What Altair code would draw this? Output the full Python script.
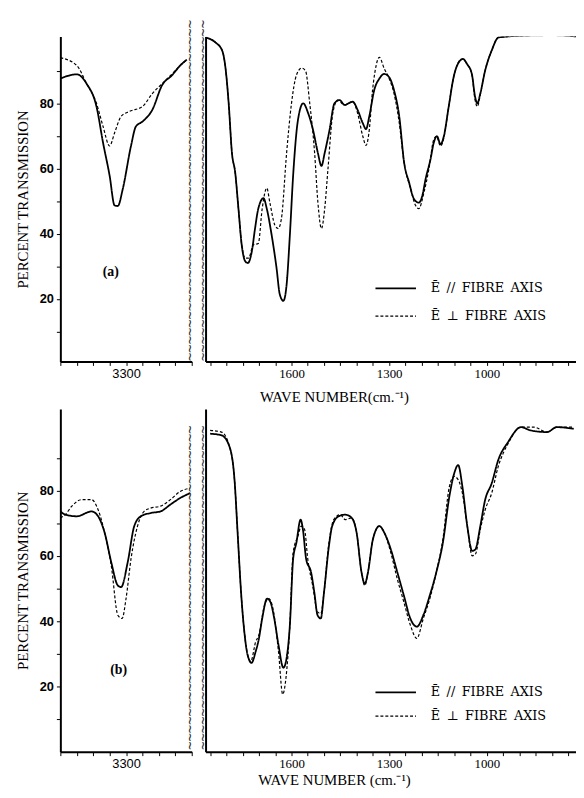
import altair as alt
import pandas as pd

# ---------------- data (wave number cm-1, percent transmission) ----------------
# Panel (a), 3700-2900 region
A_L_WN_PAR = [3700, 3600, 3540, 3480, 3440, 3400, 3370, 3350, 3320, 3270, 3240, 3200, 3140, 3080, 3020, 2970, 2930]
A_L_T_PAR = [87.6, 88.9, 86.0, 79.0, 67.9, 57.8, 48.7, 48.5, 53.7, 66.9, 72.9, 74.4, 78.0, 85.6, 88.6, 91.6, 93.4]
A_L_WN_PERP = [3700, 3600, 3540, 3480, 3440, 3400, 3370, 3330, 3280, 3200, 3140, 3080, 3020, 2970, 2930]
A_L_T_PERP = [94.0, 91.6, 86.0, 80.0, 72.9, 66.9, 70.9, 76.0, 77.5, 79.0, 83.0, 86.0, 89.0, 91.6, 93.4]

# Panel (a), 1864-713 region
A_R_WN_PAR = [1864, 1834, 1813, 1803, 1793, 1783, 1773, 1763, 1753, 1742, 1734, 1722, 1712, 1702, 1686, 1676,
              1661, 1646, 1636, 1625, 1615, 1605, 1595, 1580, 1564, 1549, 1534, 1519, 1508, 1498, 1483, 1468,
              1452, 1437, 1412, 1397, 1381, 1371, 1361, 1346, 1330, 1315, 1300, 1285, 1269, 1254, 1239, 1224,
              1209, 1198, 1188, 1173, 1163, 1153, 1142, 1132, 1117, 1102, 1086, 1073, 1061, 1046, 1036, 1029,
              1020, 1005, 985, 964, 898, 797, 713]
A_R_T_PAR = [100.2, 98.7, 96.2, 91.0, 80.0, 64.8, 58.8, 47.7, 36.6, 31.5, 31.0, 34.5, 41.6, 47.7, 50.9, 47.7,
             39.6, 29.5, 21.4, 19.4, 24.4, 39.6, 57.8, 75.0, 80.0, 77.0, 71.9, 64.8, 60.8, 64.8, 71.9, 80.0,
             81.0, 79.5, 80.5, 78.0, 73.9, 72.1, 76.0, 84.0, 87.6, 89.0, 88.0, 84.0, 76.0, 61.8, 55.8, 50.7,
             49.5, 51.7, 56.8, 62.8, 67.9, 69.9, 67.4, 69.9, 79.0, 88.0, 92.6, 93.6, 92.1, 89.0, 82.0, 80.0,
             83.0, 90.1, 96.2, 100.2, 100.7, 100.9, 100.4]
A_R_WN_PERP = [1864, 1834, 1813, 1803, 1793, 1783, 1773, 1763, 1753, 1742, 1732, 1717, 1702, 1690, 1676, 1666,
               1651, 1641, 1631, 1615, 1600, 1585, 1569, 1557, 1544, 1529, 1519, 1508, 1498, 1488, 1473, 1458,
               1437, 1412, 1397, 1381, 1371, 1361, 1351, 1341, 1330, 1315, 1300, 1285, 1269, 1254, 1234, 1219,
               1209, 1193, 1178, 1163, 1155, 1142, 1132, 1117, 1102, 1076, 1061, 1046, 1036, 1029, 1020, 1005,
               985, 964, 898, 797, 713]
A_R_T_PERP = [100.2, 98.7, 96.2, 91.0, 80.0, 64.8, 58.8, 47.7, 36.6, 32.5, 32.5, 36.6, 37.0, 47.7, 54.0, 49.3,
              42.6, 41.6, 44.6, 64.8, 80.0, 88.6, 90.8, 90.0, 80.0, 64.8, 49.7, 41.6, 47.7, 59.8, 77.0, 81.0,
              79.5, 80.5, 77.0, 69.9, 67.1, 71.9, 84.0, 91.1, 94.1, 90.6, 87.6, 83.0, 74.0, 61.8, 53.7, 48.7,
              47.7, 52.7, 59.8, 68.9, 69.9, 66.9, 69.4, 79.0, 88.0, 93.6, 92.1, 89.0, 81.0, 79.0, 82.6, 90.1,
              96.2, 100.2, 100.7, 100.9, 100.4]

# Panel (b), 3700-2900 region
B_L_WN_PAR = [3700, 3670, 3600, 3510, 3470, 3430, 3390, 3350, 3330, 3290, 3250, 3210, 3150, 3090, 3030, 2970, 2910]
B_L_T_PAR = [73.6, 72.6, 72.1, 73.6, 72.1, 67.0, 58.0, 50.9, 50.4, 58.0, 69.1, 72.1, 73.1, 73.6, 75.7, 77.7, 79.2]
B_L_WN_PERP = [3700, 3670, 3630, 3570, 3510, 3470, 3430, 3390, 3350, 3324, 3300, 3270, 3230, 3190, 3150, 3090,
               3030, 2970, 2910]
B_L_T_PERP = [71.6, 72.6, 75.2, 77.2, 77.2, 74.1, 67.0, 57.0, 41.8, 40.8, 46.9, 59.0, 69.1, 73.6, 74.6, 75.2,
              77.2, 79.7, 80.7]

# Panel (b), 1850-733 region
B_R_WN_PAR = [1850, 1815, 1790, 1775, 1765, 1755, 1745, 1735, 1723, 1710, 1700, 1690, 1675, 1665, 1653, 1640,
              1625, 1615, 1605, 1595, 1585, 1572, 1565, 1555, 1540, 1530, 1520, 1510, 1500, 1485, 1475, 1455,
              1435, 1415, 1400, 1385, 1375, 1365, 1350, 1330, 1315, 1295, 1275, 1255, 1235, 1215, 1195, 1175,
              1155, 1135, 1115, 1100, 1088, 1075, 1060, 1045, 1035, 1020, 1005, 985, 965, 935, 895, 865, 815,
              785, 733]
B_R_T_PAR = [97.4, 96.9, 93.3, 83.2, 66.1, 48.9, 36.8, 29.7, 27.2, 30.7, 34.7, 40.8, 46.9, 45.9, 40.8, 32.7,
             25.7, 28.7, 38.8, 59.0, 64.0, 71.1, 68.1, 59.0, 55.0, 48.9, 41.8, 40.8, 48.9, 63.0, 69.1, 72.1,
             72.6, 71.6, 67.1, 55.0, 51.4, 55.0, 65.0, 69.1, 67.1, 62.0, 55.0, 47.9, 40.8, 38.3, 41.8, 47.9,
             55.0, 64.0, 78.2, 85.3, 87.8, 81.2, 69.1, 61.5, 62.0, 69.1, 77.2, 82.2, 89.3, 94.8, 99.4, 98.4, 97.9,
             99.4, 98.9]
B_R_WN_PERP = [1850, 1815, 1790, 1775, 1765, 1755, 1745, 1735, 1725, 1710, 1700, 1685, 1670, 1655, 1640, 1627,
               1617, 1605, 1595, 1580, 1570, 1560, 1550, 1535, 1520, 1510, 1500, 1485, 1470, 1450, 1435, 1415,
               1400, 1385, 1375, 1365, 1350, 1330, 1315, 1295, 1275, 1255, 1235, 1215, 1195, 1175, 1155, 1135,
               1115, 1100, 1088, 1075, 1060, 1045, 1035, 1020, 1005, 985, 965, 935, 895, 855, 815, 785, 733]
B_R_T_PERP = [98.4, 97.9, 93.3, 83.2, 66.1, 48.9, 36.8, 29.7, 27.7, 33.7, 35.8, 44.0, 46.9, 42.8, 30.7, 17.6,
              22.6, 38.8, 61.0, 66.1, 69.1, 68.1, 59.0, 50.9, 42.8, 42.3, 48.9, 64.0, 71.1, 72.6, 71.1, 71.6,
              67.1, 55.0, 50.9, 55.0, 65.0, 69.1, 67.1, 61.0, 52.9, 45.9, 38.8, 34.7, 40.8, 46.9, 55.0, 65.0,
              81.2, 84.3, 83.3, 79.2, 69.1, 60.0, 60.5, 68.1, 74.1, 79.2, 87.3, 94.3, 99.4, 99.4, 97.9, 99.4, 99.4]

SERIES = ["par", "perp"]
LEGEND_A = ["Ē\u2002//\u2002FIBRE\u2002AXIS", "Ē\u2002⊥\u2002FIBRE\u2002AXIS"]
LEGEND_B = ["Ē\u2002//\u2002FIBRE\u2002AXIS", "Ē\u2002⊥\u2002FIBRE\u2002AXIS"]
Y_TITLE = "PERCENT TRANSMISSION"
X_TITLE_A = "WAVE NUMBER(cm.⁻¹)"
X_TITLE_B = "WAVE NUMBER (cm.⁻¹)"
LEFT_TICKS = list(range(3700, 2899, -100))
RIGHT_TICKS = list(range(1850, 749, -50))
Y_TICKS = [10, 20, 30, 40, 50, 60, 70, 80, 90]

# ---------------- layout constants ----------------
LW = 133          # left plot width
RW = 375          # right plot width
HA = 329          # panel (a) height
HB = 347          # panel (b) height
YDOM_A = [0.8, 100.5]
YDOM_B = [0.0, 105.0]
RDOM = [1864, 726]
SERIF = "Liberation Serif"
SANS = "Liberation Sans"
LEG_FONT = "DejaVu Serif"
WAVE = "~"


def frame(wn_p, t_p, wn_s, t_s):
    return pd.concat([
        pd.DataFrame({"wn": wn_p, "T": t_p, "s": "par"}),
        pd.DataFrame({"wn": wn_s, "T": t_s, "s": "perp"}),
    ], ignore_index=True)


dash = alt.StrokeDash("s:N", scale=alt.Scale(domain=SERIES, range=[[1, 0], [3, 2]]), legend=None)
width_enc = alt.StrokeWidth("s:N", scale=alt.Scale(domain=SERIES, range=[1.8, 1.2]), legend=None)


def one_row():
    return pd.DataFrame({"k": [0]})


def left_panel(df, ydom, h, tag, tag_xy, wave_n, wave_y):
    lines = alt.Chart(df).mark_line(color="black", clip=True, interpolate="monotone").encode(
        x=alt.X("wn:Q", scale=alt.Scale(domain=[3700, 2900], nice=False, zero=False),
                axis=alt.Axis(values=LEFT_TICKS, format="d",
                              labelExpr="datum.value == 3300 ? '3300' : ''",
                              labelFont=SANS, labelFontSize=13, tickSize=4, labelPadding=2,
                              title=None, grid=False)),
        y=alt.Y("T:Q", scale=alt.Scale(domain=ydom, nice=False, zero=False),
                axis=alt.Axis(values=Y_TICKS, format="d",
                              labelExpr="datum.value % 20 == 0 ? datum.label : ''",
                              labelFont=SANS, labelFontWeight="bold", labelFontSize=13,
                              tickSize=4, labelPadding=3, grid=False,
                              title=Y_TITLE, titleFont=SERIF, titleFontSize=15,
                              titleFontWeight="normal", titlePadding=9)),
        strokeDash=dash,
        strokeWidth=width_enc,
        detail="s:N",
    )
    tag_txt = alt.Chart(one_row()).mark_text(
        text=tag, font=SERIF, fontSize=14, fontWeight="bold", color="black"
    ).encode(x=alt.value(tag_xy[0]), y=alt.value(tag_xy[1]))
    waves = []
    for wx in (130, 143):
        waves.append(alt.Chart(one_row()).mark_text(
            text=WAVE * wave_n, font="DejaVu Sans Mono", fontSize=14, angle=90,
            color="#333333", align="center", baseline="middle"
        ).encode(x=alt.value(wx), y=alt.value(wave_y)))
    return alt.layer(lines, tag_txt, *waves).properties(width=LW, height=h)


def right_panel(df, ydom, h, legend_labels, leg_y, xtitle, title_pad):
    lines = alt.Chart(df).mark_line(color="black", clip=True, interpolate="monotone").encode(
        x=alt.X("wn:Q", scale=alt.Scale(domain=RDOM, nice=False, zero=False),
                axis=alt.Axis(values=RIGHT_TICKS, format="d",
                              labelExpr="(datum.value == 1600 || datum.value == 1300 || datum.value == 1000) ? datum.label : ''",
                              labelFont=SERIF, labelFontSize=13, tickSize=4, labelPadding=2,
                              title=xtitle, titleFont=SERIF, titleFontSize=15,
                              titleFontWeight="normal", titleX=130, titlePadding=title_pad,
                              grid=False)),
        y=alt.Y("T:Q", scale=alt.Scale(domain=ydom, nice=False, zero=False),
                axis=alt.Axis(labels=False, ticks=False, title=None, grid=False)),
        strokeDash=dash,
        strokeWidth=width_enc,
        detail="s:N",
    )
    layers = [lines]
    for i, (lab, dsh, sw) in enumerate(zip(legend_labels, [[1, 0], [3, 2]], [1.8, 1.2])):
        layers.append(alt.Chart(one_row()).mark_rule(color="black", strokeDash=dsh, strokeWidth=sw).encode(
            x=alt.value(172), x2=alt.value(213), y=alt.value(leg_y[i])))
        layers.append(alt.Chart(one_row()).mark_text(
            text=lab, font=LEG_FONT, fontSize=13, align="left", baseline="middle", color="black"
        ).encode(x=alt.value(228), y=alt.value(leg_y[i])))
    return alt.layer(*layers).properties(width=RW, height=h)


df_al = frame(A_L_WN_PAR, A_L_T_PAR, A_L_WN_PERP, A_L_T_PERP)
df_ar = frame(A_R_WN_PAR, A_R_T_PAR, A_R_WN_PERP, A_R_T_PERP)
df_bl = frame(B_L_WN_PAR, B_L_T_PAR, B_L_WN_PERP, B_L_T_PERP)
df_br = frame(B_R_WN_PAR, B_R_T_PAR, B_R_WN_PERP, B_R_T_PERP)

row_a = alt.hconcat(
    left_panel(df_al, YDOM_A, HA, "(a)", (51, 238), 41, 156),
    right_panel(df_ar, YDOM_A, HA, LEGEND_A, (255, 283), X_TITLE_A, 10),
    spacing=14, bounds="flush",
)
row_b = alt.hconcat(
    left_panel(df_bl, YDOM_B, HB, "(b)", (59, 264), 39, 181),
    right_panel(df_br, YDOM_B, HB, LEGEND_B, (287, 311), X_TITLE_B, 2),
    spacing=14, bounds="flush",
)

chart = alt.vconcat(row_a, row_b, spacing=4).properties(
    padding={"left": 7, "top": 7, "right": 0, "bottom": 0},
    background="white",
).configure_view(stroke=None).configure_axis(
    domainColor="black", domainWidth=2, tickColor="black", tickWidth=1,
    labelColor="black", titleColor="black",
)

chart.save("out.html", embed_options={"renderer": "svg", "actions": False})
